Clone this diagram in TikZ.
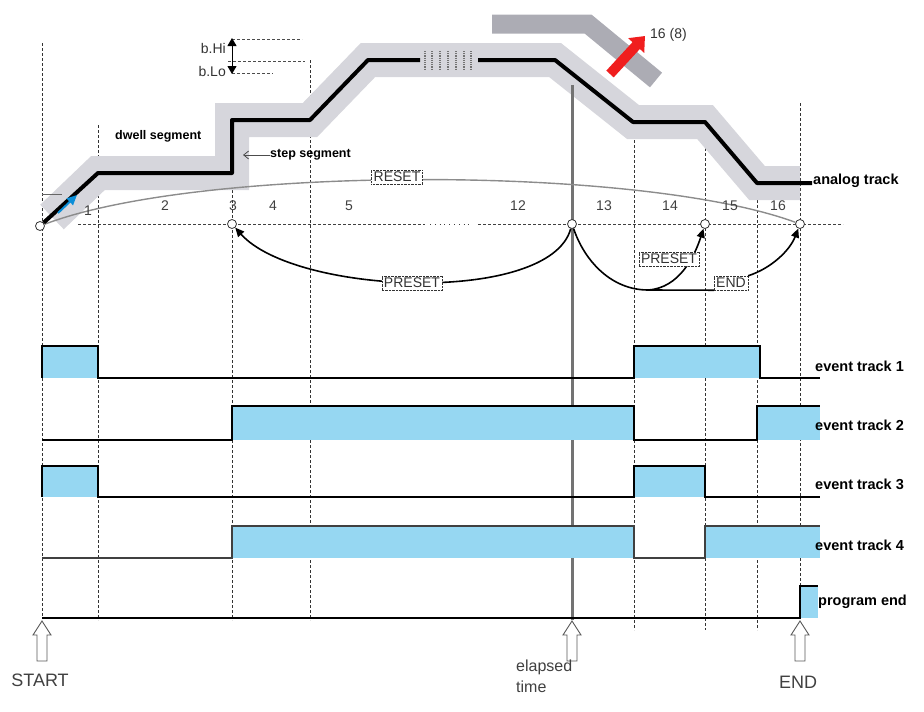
\documentclass[tikz,border=0pt]{standalone}
\usepackage{fontspec}
\setmainfont{Liberation Sans}
\usetikzlibrary{arrows.meta}
\definecolor{evblue}{RGB}{150,215,242}
\definecolor{bandgray}{RGB}{214,214,220}
\definecolor{bandgray2}{RGB}{172,172,180}
\definecolor{arrred}{RGB}{240,30,30}
\begin{document}
\begin{tikzpicture}[x=1pt,y=-1pt,
  vdash/.style={densely dashed, line width=0.8pt, black!80},
  trackline/.style={line width=1.8pt, black, line join=miter},
  evfill/.style={fill=evblue},
  lbl/.style={font=\fontsize{14.5}{14.5}\selectfont\bfseries, anchor=west, inner sep=0pt},
  seglbl/.style={font=\fontsize{12.5}{12.5}\selectfont\bfseries, anchor=west, inner sep=0pt},
  num/.style={font=\fontsize{14}{14}\selectfont, text=black!75, inner sep=0pt},
  tagbox/.style={draw=black!80, densely dotted, fill=white, font=\fontsize{14}{14}\selectfont, inner sep=2.2pt, text=black!80},
  ptcirc/.style={circle, draw=black!80, fill=white, minimum size=9pt, inner sep=0pt, line width=0.8pt},
  blockarr/.style={draw=black!65, fill=white, line width=0.9pt, line join=miter},
  botlbl/.style={font=\fontsize{18}{18}\selectfont, text=black!75, inner sep=0pt},
  conn/.style={line width=1.6pt, black},
  tip/.style={-{Triangle[length=9pt,width=8pt]}}
]
\useasboundingbox (0,0) rectangle (924,712);

% ---------- vertical guide lines ----------
\draw[vdash] (42,43) -- (42,618);
\draw[vdash] (98,125) -- (98,620);
\draw[vdash] (232,175) -- (232,620);
\draw[vdash] (310,60) -- (310,620);
\draw[vdash] (634,135) -- (634,630);
\draw[vdash] (705,143) -- (705,630);
\draw[vdash] (757,195) -- (757,630);
\draw[vdash] (800,103) -- (800,618);

% ---------- analog track band ----------
\draw[bandgray2, line width=19pt] (492,24) -- (588,24) -- (656,80);
\draw[bandgray, line width=34pt, line join=miter] (52,217) -- (98,173) -- (232,173) -- (232,120) -- (310,120) -- (368,60) -- (555,60) -- (633,122) -- (705,122) -- (757,183) -- (800,183);

% elapsed time line
\draw[black!55, line width=3pt] (572,85) -- (572,620);

% baseline
\draw[densely dashed, black!75, line width=0.8pt] (78,224) -- (425,224);
\draw[loosely dotted, black!75, line width=0.8pt] (430,224) -- (472,224);
\draw[densely dashed, black!75, line width=0.8pt] (478,224) -- (843,224);

% b.Hi / b.Lo
\draw[densely dashed, black!70, line width=0.8pt] (232,39) -- (302,39);
\draw[densely dashed, black!70, line width=0.8pt] (228,61) -- (305,61);
\draw[densely dashed, black!70, line width=0.8pt] (232,73) -- (273,73);
\draw[-{Triangle[length=8pt,width=9pt]}, line width=1pt] (232,61) -- (232,38);
\draw[-{Triangle[length=8pt,width=9pt]}, line width=1pt] (232,50) -- (232,74);
\node[num, anchor=east, text=black!80] (bhi) at (226,48) {b.Hi};
\node[num, anchor=east, text=black!80] (blo) at (226,71) {b.Lo};

% circles
\node[ptcirc] (cstart) at (40,226) {};
\node[ptcirc] (c232) at (232,224) {};
\node[ptcirc] (c572) at (572,224) {};
\node[ptcirc] (c705) at (705,224) {};
\node[ptcirc] (c800) at (800,224) {};

% RESET arc
\draw[black!45, line width=1.4pt] (cstart) .. controls (200,165) and (640,165) .. (c800);
\node[tagbox] (reset) at (397,177) {RESET};

% analog black line
\draw[line width=4pt, line join=round] (cstart) -- (98,173) -- (232,173) -- (232,120) -- (310,120) -- (368,60) -- (420,60);
\foreach \x in {425,432,440,448,456,464,471}
  \draw[black!55, densely dotted, line width=1.2pt] (\x,51) -- (\x,69);
\draw[line width=4pt, line join=round] (478,60) -- (555,60) -- (633,122) -- (705,122) -- (757,183) -- (812,183);
\draw[black!60, line width=0.8pt] (42,194) -- (62,194);
\draw[-{Triangle[length=10pt,width=9pt]}, cyan!75!blue, line width=2pt] (58,213) -- (77,195);

% red arrow
\draw[arrred, line width=10pt, -{Triangle[length=13pt,width=21pt]}] (610,74) -- (645,36);
\node[num, anchor=west, text=black!80] (sixteen) at (650,35) {16 (8)};

% segment labels
\node[seglbl] (dwell) at (115,136) {dwell segment};
\node[seglbl] (steplbl) at (270,155) {step segment};
\draw[black!70, line width=0.8pt, -{Straight Barb[length=5pt,width=8pt]}] (steplbl.west) -- ++(-27,0);
\node[lbl] (analog) at (813,181) {analog track};

% segment numbers
\node[num] (n1) at (88,211) {1};
\node[num] (n2) at (165,206) {2};
\node[num] (n3) at (233,206) {3};
\node[num] (n4) at (273,206) {4};
\node[num] (n5) at (349,206) {5};
\node[num] (n12) at (518,206) {12};
\node[num] (n13) at (604,206) {13};
\node[num] (n14) at (670,206) {14};
\node[num] (n15) at (730,206) {15};
\node[num] (n16) at (778,206) {16};

% PRESET / END connectors
\draw[conn, tip] (c572) .. controls (550,305) and (295,295) .. (c232);
\node[tagbox] (preset1) at (412,283) {PRESET};
\coordinate (jn) at (648,290);
\draw[conn] (c572) .. controls (585,262) and (612,290) .. (jn);
\draw[conn, tip] (jn) .. controls (680,288) and (695,255) .. (c705);
\node[tagbox] (preset2) at (669,259) {PRESET};
\node[tagbox] (endbox) at (731,283) {END};
\draw[conn] (jn) -- (endbox.south west);
\draw[conn, tip] (endbox.north east) .. controls (772,268) and (790,250) .. (c800);

% ---------- event tracks ----------
% track 1
\fill[evblue] (42,346) rectangle (98,378);
\fill[evblue] (634,346) rectangle (760,378);
\draw[trackline] (42,378) -- (42,346) -- (98,346) -- (98,378) -- (634,378) -- (634,346) -- (760,346) -- (760,378) -- (820,378);
\node[lbl] (ev1) at (815,366) {event track 1};
% track 2
\fill[evblue] (232,406) rectangle (634,440);
\fill[evblue] (757,406) rectangle (820,440);
\draw[trackline] (42,440) -- (232,440) -- (232,406) -- (634,406) -- (634,440) -- (757,440) -- (757,406) -- (820,406);
\node[lbl] (ev2) at (815,425) {event track 2};
% track 3
\fill[evblue] (42,466) rectangle (98,497);
\fill[evblue] (634,466) rectangle (705,497);
\draw[trackline] (42,497) -- (42,466) -- (98,466) -- (98,497) -- (634,497) -- (634,466) -- (705,466) -- (705,497) -- (820,497);
\node[lbl] (ev3) at (815,484) {event track 3};
% track 4
\fill[evblue] (232,526) rectangle (634,558);
\fill[evblue] (705,526) rectangle (820,558);
\draw[trackline, black!75] (42,558) -- (232,558) -- (232,526) -- (634,526) -- (634,558) -- (705,558) -- (705,526) -- (820,526);
\node[lbl] (ev4) at (815,545) {event track 4};
% program end
\fill[evblue] (800,586) rectangle (818,618);
\draw[trackline, line width=2.4pt] (42,618) -- (800,618) -- (800,586) -- (818,586);
\node[lbl] (pend) at (818,602) {program end};

% ---------- bottom block arrows ----------
\foreach \x in {42,572,800}
  \draw[blockarr] (\x,621) -- (\x+9,635) -- (\x+5,635) -- (\x+5,661) -- (\x-5,661) -- (\x-5,635) -- (\x-9,635) -- cycle;
\node[botlbl] (start) at (40,680) {START};
\node[botlbl, font=\fontsize{16}{21}\selectfont, align=left, anchor=north west] (elapsed) at (516,660) {elapsed\\time};
\node[botlbl] (endlbl) at (798,682) {END};
\end{tikzpicture}
\end{document}
